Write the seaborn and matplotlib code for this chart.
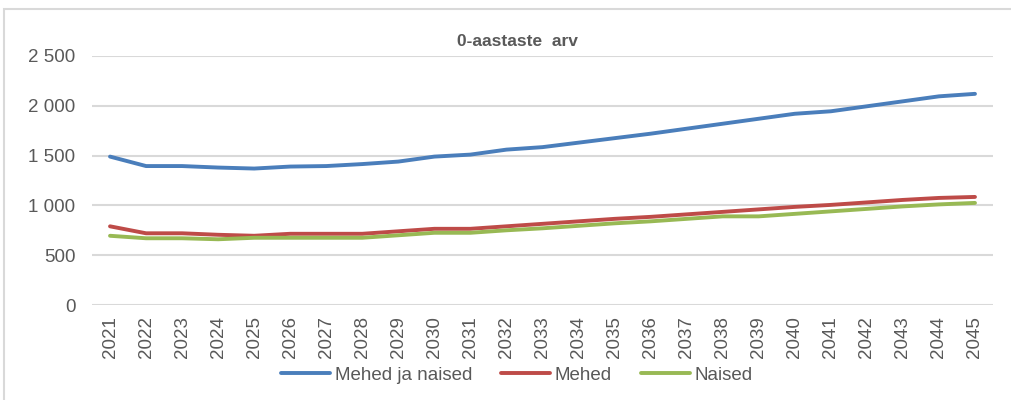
import matplotlib
matplotlib.use("Agg")
import matplotlib.pyplot as plt
import seaborn as sns
import pandas as pd
from matplotlib.patches import Rectangle
from matplotlib.ticker import FuncFormatter

# values
years = list(range(2021, 2046))
mehed_ja_naised = [1490, 1395, 1395, 1380, 1370, 1390, 1395, 1415, 1440, 1490,
                   1510, 1560, 1585, 1630, 1675, 1720, 1770, 1820, 1870, 1920,
                   1945, 1995, 2045, 2095, 2120]
mehed = [790, 720, 720, 705, 695, 715, 715, 715, 740, 765,
         765, 790, 815, 840, 865, 885, 910, 935, 960, 985,
         1005, 1030, 1055, 1075, 1085]
naised = [695, 670, 670, 660, 675, 675, 675, 675, 700, 725,
          725, 750, 770, 795, 820, 840, 865, 890, 890, 915,
          940, 965, 990, 1010, 1025]
series_names = ["Mehed ja naised", "Mehed", "Naised"]
colors = ["#4a7ebb", "#be4b48", "#98b954"]

df = pd.DataFrame({"aasta": [str(y) for y in years] * 3,
                   "arv": mehed_ja_naised + mehed + naised,
                   "rühm": [n for n in series_names for _ in years]})

sns.set_style("white")
plt.rcParams["font.family"] = ["Liberation Sans", "DejaVu Sans"]

fig = plt.figure(figsize=(10.11, 4.0), dpi=100)
fig.patches.append(Rectangle((4 / 1011, -0.1), 1.1, (400 - 9) / 400 + 0.1,
                             transform=fig.transFigure, fill=False,
                             edgecolor="#d9d9d9", linewidth=1.5))
ax = fig.add_axes([92 / 1011, 1 - 305 / 400, (993 - 92) / 1011, (305 - 56) / 400])

sns.lineplot(data=df, x="aasta", y="arv", hue="rühm", palette=colors,
             linewidth=2.8, ax=ax, sort=False)
for line in ax.get_lines():
    line.set_solid_capstyle("round")

ax.set_ylim(0, 2500)
ax.set_xlim(-0.5, len(years) - 0.5)
ax.set_yticks(range(0, 2501, 500))
ax.yaxis.set_major_formatter(FuncFormatter(lambda v, p: f"{int(v):,}".replace(",", " ")))
ax.grid(axis="y", color="#d9d9d9", linewidth=1.5)
ax.set_axisbelow(True)
for s in ax.spines.values():
    s.set_visible(False)
ax.tick_params(axis="both", length=0, colors="#595959", labelsize=13.5)
ax.tick_params(axis="x", rotation=90, pad=8)
ax.tick_params(axis="y", pad=12)
ax.set_xlabel("")
ax.set_ylabel("")
ax.set_title("0-aastaste  arv", fontsize=12.5, fontweight="bold", color="#595959",
             pad=7, x=(517 - 92) / 901)

ax.legend(loc="center", bbox_to_anchor=((517 - 92) / 901, (305 - 375) / 249), ncol=3,
          frameon=False, fontsize=13.5, labelcolor="#595959", handlelength=2.6,
          handletextpad=0.25, columnspacing=1.55, borderaxespad=0, borderpad=0)

fig.savefig("out.png", dpi=100)
